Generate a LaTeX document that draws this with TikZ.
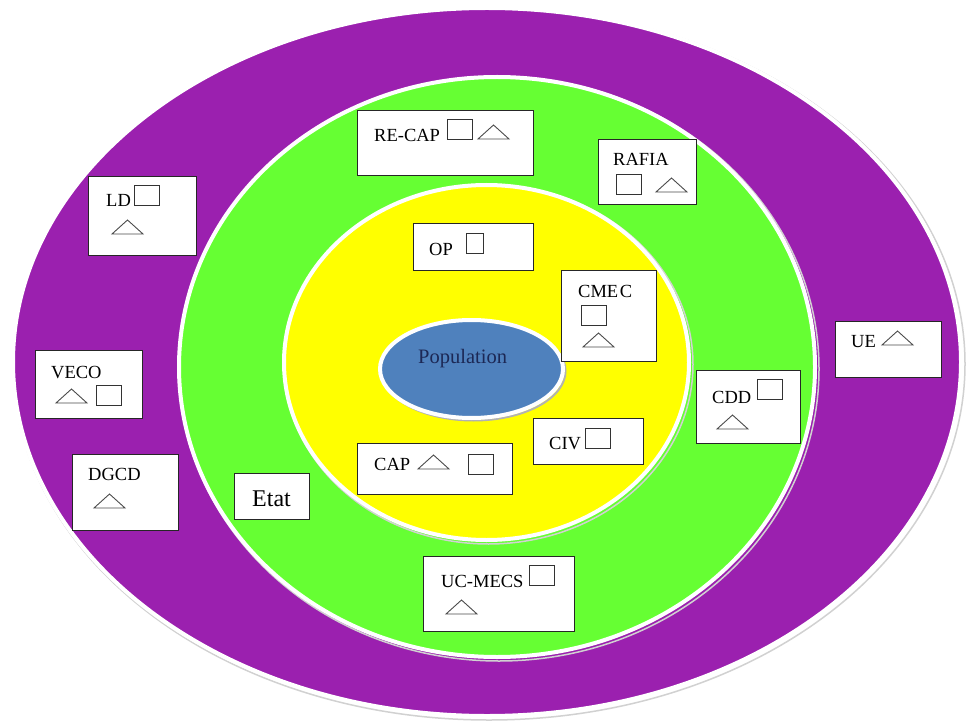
\documentclass[tikz,border=0pt]{standalone}
\usepackage{fontspec}
\setmainfont{Liberation Serif}
\usetikzlibrary{shapes.geometric}
\definecolor{purp}{RGB}{155,32,175}
\definecolor{grn}{RGB}{102,255,51}
\definecolor{yel}{RGB}{255,255,0}
\definecolor{popblue}{RGB}{79,129,189}
\definecolor{navy}{RGB}{28,40,85}
\newcommand\sqr[2]{\draw[sq] (#1,#2) rectangle ++(25,20);}
\newcommand\trig[2]{\draw[tr] (#1,#2) -- ++(15.5,-14) -- ++(15.5,14) -- cycle;}
\begin{document}
\begin{tikzpicture}[x=1pt,y=-1pt,
  ring/.style={draw=white,line width=4pt},
  shade/.style={draw=black!18,line width=1.5pt},
  box/.style={draw=black!85,fill=white,line width=1pt,inner sep=0pt,anchor=north west},
  lbl/.style={anchor=base west,inner sep=0pt,font=\fontsize{18.5}{20}\selectfont},
  sq/.style={draw=black!80,line width=0.9pt},
  tr/.style={draw=black!70,line width=0.9pt,line join=miter}]
\useasboundingbox (0,0) rectangle (971,727);
\fill[white] (0,0) rectangle (971,727);
% outer ring
\draw[shade] (489,364) ellipse [x radius=476, y radius=356];
\draw[ring,fill=purp] (487,362) ellipse [x radius=474, y radius=354];
% green ring
\draw[shade] (499,369) ellipse [x radius=320, y radius=292];
\draw[ring,fill=grn] (497,367) ellipse [x radius=318, y radius=290];
% yellow
\draw[shade] (488.5,364.5) ellipse [x radius=204.5, y radius=179.5];
\draw[ring,fill=yel] (486.5,362.5) ellipse [x radius=202.5, y radius=177.5];
% population
\draw[draw=black!30,line width=2pt] (473.5,371) ellipse [x radius=92, y radius=49.5];
\node[ellipse,draw=white,line width=4pt,fill=popblue,minimum width=183pt,minimum height=98pt,inner sep=0pt] (pop) at (471.5,369) {};
\node[anchor=base west,inner sep=0pt,font=\fontsize{20.5}{22}\selectfont,text=navy] (poptxt) at (418,363) {Population};
% boxes
\node[box,minimum width=176pt,minimum height=65pt] (recap) at (357,110) {};
\node[box,minimum width=98pt,minimum height=65pt] (rafia) at (598,139) {};
\node[box,minimum width=120pt,minimum height=47pt] (op) at (413,223) {};
\node[box,minimum width=95pt,minimum height=91pt] (cmec) at (561,270) {};
\node[box,minimum width=108pt,minimum height=79pt] (ld) at (88,176) {};
\node[box,minimum width=107pt,minimum height=68pt] (veco) at (35,350) {};
\node[box,minimum width=106pt,minimum height=76pt] (dgcd) at (72,454) {};
\node[box,minimum width=75pt,minimum height=46pt] (etat) at (234,473) {};
\node[box,minimum width=155pt,minimum height=51pt] (cap) at (357,443) {};
\node[box,minimum width=110pt,minimum height=46pt] (civ) at (533,418) {};
\node[box,minimum width=151pt,minimum height=75pt] (ucmecs) at (423,556) {};
\node[box,minimum width=104pt,minimum height=73pt] (cdd) at (696,370) {};
\node[box,minimum width=106pt,minimum height=56pt] (ue) at (835,321) {};
% labels
\node[lbl] (t-recap) at (374,142) {RE-CAP};
\node[lbl] (t-rafia) at (613,166) {RAFIA};
\node[lbl] (t-op) at (429,255) {OP};
\node[lbl] (t-cmec) at (578,297) {CME\kern1.5pt C};
\node[lbl] (t-ld) at (106,207) {LD};
\node[lbl] (t-veco) at (51,378) {VECO};
\node[lbl] (t-dgcd) at (88,480) {DGCD};
\node[lbl,font=\fontsize{24}{26}\selectfont] (t-etat) at (252,506) {Etat};
\node[lbl] (t-cap) at (374,470) {CAP};
\node[lbl] (t-civ) at (549,449) {CIV};
\node[lbl] (t-ucmecs) at (441,587) {UC-MECS};
\node[lbl] (t-cdd) at (712,403) {CDD};
\node[lbl] (t-ue) at (851,347) {UE};
% squares and triangles
\sqr{447}{119} \trig{478}{139}
\sqr{616}{174} \trig{656}{192}
\draw[sq] (466,233) rectangle ++(17,20);
\sqr{581}{305} \trig{583}{347}
\sqr{134}{185} \trig{112}{234}
\trig{56}{403} \sqr{96}{385}
\trig{94}{508}
\trig{418}{469} \sqr{468}{454}
\sqr{585}{428}
\sqr{529}{565} \trig{446}{614}
\sqr{757}{379} \trig{717}{429}
\trig{882}{345}
\end{tikzpicture}
\end{document}
